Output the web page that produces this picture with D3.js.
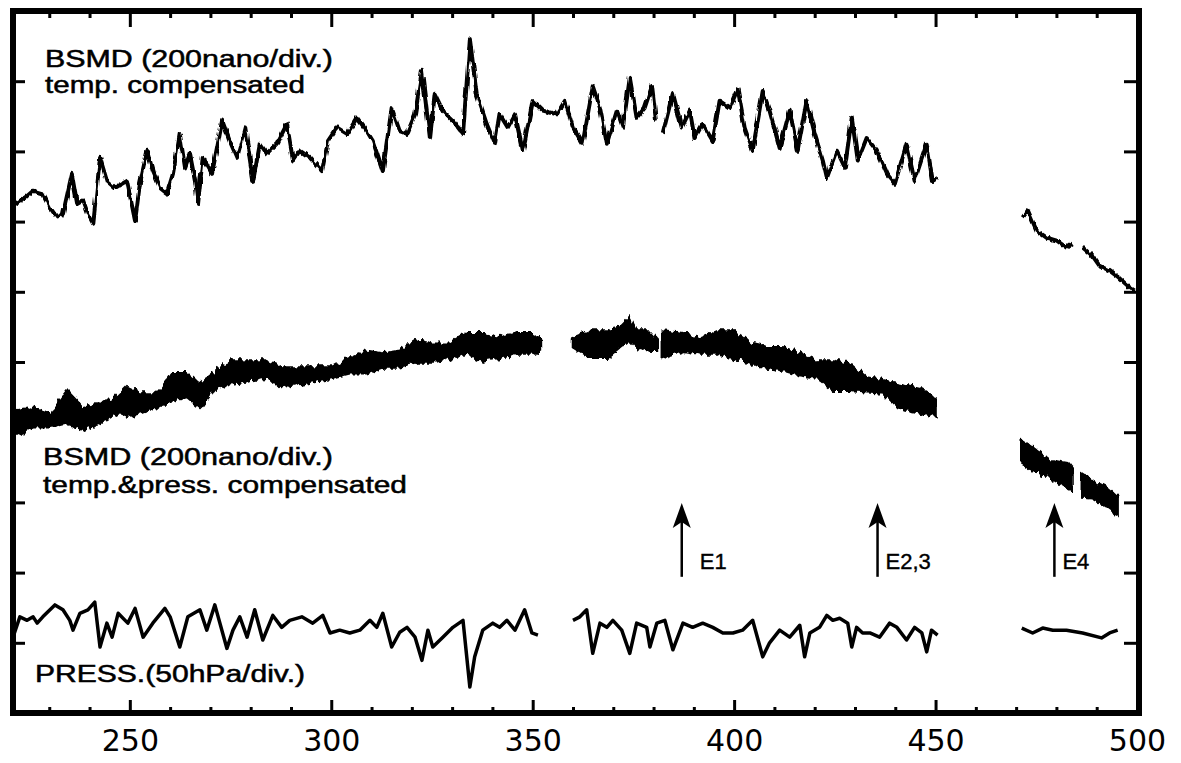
<!DOCTYPE html>
<html>
<head>
<meta charset="utf-8">
<script src="https://cdn.jsdelivr.net/npm/d3@7"></script>
<style>
body { margin: 0; background: #fff; }
</style>
</head>
<body>
<svg id="svg" width="1181" height="763"></svg>
<script>
// x in the printed axis units, y in chart divisions counted up from the bottom frame line
var xMajor = [250, 300, 350, 400, 450, 500];
var xMinor = [230, 240, 260, 270, 280, 290, 310, 320, 330, 340, 360, 370, 380, 390,
              410, 420, 430, 440, 460, 470, 480, 490];
var yTicks = [1, 2, 3, 4, 5, 6, 7, 8, 9];

// BSMD, temperature compensated (null = recording gap)
var tempComp = [
  [221.5,7.25],[224.0,7.34],[226.0,7.44],[228.4,7.40],[230.2,7.20],[231.9,7.06],[233.4,7.11],[235.6,7.68],
  [236.9,7.25],[238.4,7.30],[239.6,7.11],[240.9,6.97],[242.6,7.91],[244.3,7.58],[246.3,7.48],[249.3,7.58],
  [251.3,7.01],[252.5,7.54],[254.3,8.01],[255.7,7.72],[257.5,7.48],[259.2,7.40],[260.7,7.68],[262.4,8.25],
  [263.7,7.77],[264.9,7.97],[266.2,7.58],[266.9,7.25],[268.1,7.91],[270.4,7.68],[272.9,8.44],[274.8,8.15],
  [276.6,7.91],[278.6,8.34],[280.6,7.58],[282.3,8.11],[284.0,7.97],[286.5,8.11],[289.0,8.39],[290.5,7.87],
  [292.2,8.01],[294.7,7.91],[297.7,7.72],[299.2,8.15],[301.4,8.34],[303.9,8.25],[306.4,8.48],[308.8,8.29],
  [310.3,8.15],[312.8,7.72],[315.0,8.62],[317.0,8.29],[318.8,8.25],[320.8,8.53],[322.5,9.15],[324.5,8.19],
  [325.7,8.82],[327.7,8.58],[330.2,8.44],[332.7,8.25],[334.4,9.60],[336.1,8.82],[338.6,8.39],[340.6,8.11],
  [341.8,8.53],[343.8,8.34],[345.6,8.53],[347.6,8.01],[350.0,8.72],[352.5,8.58],[356.0,8.53],[358.0,8.72],
  [360.0,8.34],[362.4,8.11],[364.9,8.93],[366.7,8.62],[368.4,8.11],[370.9,8.58],[372.4,8.34],[374.1,9.05],
  [375.8,8.48],[377.8,8.62],[379.6,8.93],[380.6,8.44], null,
  [382.3,8.25],[384.8,8.83],[387.0,8.34],[389.0,8.58],[390.2,8.19],[392.2,8.39],[394.7,8.15],[396.4,8.72],
  [398.9,8.62],[400.9,8.89],[402.6,8.34],[404.6,8.01],[407.1,8.86],[408.8,8.58],[411.3,8.05],[413.8,8.58],
  [415.8,8.01],[416.3,8.19],[418.0,8.72],[420.0,8.25],[422.0,7.87],[423.0,7.62],[425.5,8.01],[427.5,7.77],
  [429.2,8.48],[430.7,7.87],[432.9,8.19],[435.4,8.01],[437.9,7.68],[439.9,7.54],[442.8,8.11],[444.8,7.58],
  [447.8,8.11],[449.3,7.58],[450.5,7.62], null,
  [471.6,7.06],[472.9,7.16],[475.1,6.87],[477.6,6.77],[480.1,6.73],[482.5,6.63],[484.0,6.69], null,
  [486.5,6.63],[489.0,6.51],[490.7,6.37],[493.2,6.30],[495.7,6.19],[498.2,6.06],[499.4,6.02]
];

// BSMD, temperature & pressure compensated: [x, low edge, high edge] of the noisy band
var tempPressComp = [
  [221.0,3.98,4.28],[222.0,3.98,4.31],[226.0,4.07,4.35],[230.2,4.07,4.27],[234.4,4.13,4.59],[238.4,4.03,4.35],
  [242.6,4.13,4.41],[246.8,4.27,4.50],[249.3,4.21,4.64],[252.5,4.27,4.55],[256.7,4.35,4.55],[260.7,4.45,4.84],
  [264.2,4.50,4.84],[267.4,4.35,4.69],[271.6,4.64,4.88],[275.6,4.69,5.02],[279.8,4.74,5.02],[284.0,4.78,5.02],
  [288.0,4.64,4.92],[292.2,4.69,4.92],[296.4,4.74,4.92],[300.4,4.78,4.92],[304.6,4.84,5.06],[308.8,4.84,5.16],
  [312.8,4.92,5.12],[317.0,4.92,5.16],[321.2,4.98,5.31],[325.2,4.98,5.26],[329.4,5.06,5.26],[333.7,5.12,5.41],
  [337.6,5.02,5.41],[341.8,5.06,5.35],[346.1,5.12,5.41],[350.0,5.12,5.41],[351.8,5.16,5.33], null,
  [360.0,5.21,5.35],[364.2,5.06,5.45],[368.4,5.06,5.45],[371.6,5.21,5.49],[374.1,5.31,5.63],[375.8,5.21,5.45],
  [379.1,5.16,5.45],[380.6,5.16,5.35], null,
  [382.3,5.06,5.45],[387.3,5.16,5.41],[391.5,5.12,5.35],[395.7,5.12,5.45],[399.7,5.06,5.45],[403.9,4.98,5.26],
  [408.1,4.92,5.21],[412.1,4.88,5.21],[416.3,4.81,5.12],[420.5,4.78,5.02],[424.5,4.59,5.02],[428.7,4.59,4.98],
  [432.9,4.57,4.78],[436.9,4.55,4.74],[441.1,4.35,4.69],[445.3,4.31,4.64],[449.3,4.24,4.50],[450.5,4.24,4.45], null,
  [471.4,3.56,3.88],[474.1,3.46,3.78],[478.3,3.36,3.60],[482.5,3.21,3.56],[484.0,3.17,3.46], null,
  [486.3,3.07,3.41],[489.0,3.06,3.31],[492.5,2.93,3.21],[495.2,2.82,3.07]
];

// atmospheric pressure
var press = [
  [221.0,1.08],[222.7,1.37],[224.5,1.32],[226.0,1.37],[227.0,1.28],[228.4,1.37],[231.4,1.54],[233.4,1.47],
  [235.1,1.32],[235.9,1.18],[237.6,1.42],[239.6,1.47],[241.3,1.58],[242.6,0.94],[244.3,1.28],[245.6,1.08],
  [247.1,1.42],[249.5,1.28],[251.3,1.49],[253.3,1.08],[255.7,1.28],[258.7,1.49],[260.0,1.37],[262.4,0.94],
  [264.4,1.37],[267.4,1.47],[269.1,1.18],[271.1,1.54],[274.1,0.92],[275.6,1.18],[277.3,1.37],[279.1,1.08],
  [281.0,1.47],[283.0,1.04],[285.5,1.39],[287.7,1.22],[289.7,1.32],[292.7,1.37],[295.4,1.28],[297.9,1.39],
  [299.7,1.14],[302.1,1.18],[304.6,1.14],[307.1,1.18],[309.6,1.32],[311.3,1.22],[312.8,1.42],[315.0,0.94],
  [317.0,1.15],[318.8,1.22],[320.8,1.08],[322.5,0.75],[324.0,1.18],[325.2,0.94],[327.7,1.08],[330.2,1.22],
  [332.7,1.32],[334.4,0.37],[335.6,0.80],[337.6,1.18],[340.1,1.28],[341.8,1.22],[343.6,1.32],[345.6,1.18],
  [348.0,1.47],[349.8,1.14],[351.3,1.11], null,
  [360.0,1.32],[361.7,1.37],[363.4,1.47],[364.9,0.85],[366.7,1.28],[368.4,1.22],[369.9,1.32],[372.1,1.18],
  [374.1,0.85],[375.8,1.28],[378.3,1.22],[379.1,0.94],[380.8,1.28],[382.8,1.32],[384.8,0.90],[387.3,1.28],
  [389.7,1.22],[392.2,1.28],[394.7,1.22],[397.2,1.14],[399.7,1.14],[402.1,1.18],[404.6,1.32],[407.1,0.80],
  [408.8,1.00],[411.3,1.18],[413.8,1.08],[416.3,1.25],[417.5,0.80],[418.8,1.14],[421.2,1.22],[423.0,1.39],
  [424.5,1.32],[426.2,1.35],[428.2,1.28],[429.2,0.94],[430.4,1.22],[431.9,1.14],[433.7,1.14],[436.1,1.08],
  [438.6,1.28],[440.4,1.22],[442.8,1.04],[444.8,1.22],[446.6,1.14],[447.8,0.87],[449.0,1.18],[450.5,1.11], null,
  [471.4,1.21],[474.1,1.14],[476.6,1.21],[479.1,1.18],[482.5,1.18],[486.5,1.14],[491.2,1.07],[493.2,1.14],
  [495.2,1.18]
];

var eventX = [387, 435.6, 479.5];
var eventLabels = ["E1", "E2,3", "E4"];

var svg = d3.select("#svg");
var x = d3.scaleLinear().domain([221, 500.5]).range([13, 1139]);
var y = d3.scaleLinear().domain([0, 10]).range([713, 11]);

// rough pen texture for the noisy recorder traces (purely visual)
var defs = svg.append("defs");
function roughFilter(id, freq, scale) {
  var f = defs.append("filter").attr("id", id)
    .attr("x", "-2%").attr("y", "-20%").attr("width", "104%").attr("height", "140%");
  f.append("feTurbulence").attr("type", "fractalNoise")
    .attr("baseFrequency", freq).attr("numOctaves", 1).attr("seed", 3).attr("result", "n");
  f.append("feDisplacementMap").attr("in", "SourceGraphic").attr("in2", "n")
    .attr("scale", scale).attr("xChannelSelector", "R").attr("yChannelSelector", "G");
}
roughFilter("rough", "0.3 0.04", 10);
roughFilter("roughLight", "0.35 0.08", 5);

var line = d3.line()
  .defined(function(d) { return d; })
  .x(function(d) { return x(d[0]); })
  .y(function(d) { return y(d[1]); });

var band = d3.area()
  .defined(function(d) { return d; })
  .x(function(d) { return x(d[0]); })
  .y0(function(d) { return y(d[1]); })
  .y1(function(d) { return y(d[2]); });

// traces
svg.append("path").attr("d", line(tempComp))
  .attr("fill", "none").attr("stroke", "#000").attr("stroke-width", 4).attr("stroke-linejoin", "round")
  .attr("filter", "url(#roughLight)");
svg.append("path").attr("d", band(tempPressComp))
  .attr("fill", "#000").attr("stroke", "#000").attr("stroke-width", 2.5).attr("stroke-linejoin", "miter")
  .attr("filter", "url(#rough)");
svg.append("path").attr("d", line(press))
  .attr("fill", "none").attr("stroke", "#000").attr("stroke-width", 3.5).attr("stroke-linejoin", "round");

// axes (ticks point inward, frame drawn separately)
function clean(g, w) {
  g.select(".domain").remove();
  g.selectAll(".tick line").attr("stroke", "#000").attr("stroke-width", w);
}
svg.append("g").attr("transform", "translate(0,713)")
  .call(d3.axisBottom(x).tickValues(xMajor).tickSize(-13).tickPadding(17).tickFormat(d3.format("d")))
  .call(function(g) { clean(g, 3); })
  .call(function(g) {
    g.selectAll("text").attr("font-family", "DejaVu Sans").attr("font-size", 30).attr("fill", "#000");
  });
svg.append("g").attr("transform", "translate(0,713)")
  .call(d3.axisBottom(x).tickValues(xMinor).tickSize(-6).tickFormat(""))
  .call(function(g) { clean(g, 3); });
svg.append("g").attr("transform", "translate(0,11)")
  .call(d3.axisTop(x).tickValues(xMajor).tickSize(-16).tickFormat(""))
  .call(function(g) { clean(g, 3); });
svg.append("g").attr("transform", "translate(0,11)")
  .call(d3.axisTop(x).tickValues(xMinor).tickSize(-7).tickFormat(""))
  .call(function(g) { clean(g, 3); });
svg.append("g").attr("transform", "translate(13,0)")
  .call(d3.axisLeft(y).tickValues(yTicks).tickSize(-12).tickFormat(""))
  .call(function(g) { clean(g, 3); });
svg.append("g").attr("transform", "translate(1139,0)")
  .call(d3.axisRight(y).tickValues(yTicks).tickSize(-15).tickFormat(""))
  .call(function(g) { clean(g, 3); });

svg.append("rect")
  .attr("x", x.range()[0]).attr("y", y.range()[1])
  .attr("width", x.range()[1] - x.range()[0]).attr("height", y.range()[0] - y.range()[1])
  .attr("fill", "none").attr("stroke", "#000").attr("stroke-width", 6);

// trace labels, stretched like the original lettering
var labels = [
  { t: "BSMD (200nano/div.)", x: 45, y: 67, w: 288 },
  { t: "temp. compensated", x: 45, y: 93, w: 260 },
  { t: "BSMD (200nano/div.)", x: 43, y: 465, w: 290 },
  { t: "temp.&press. compensated", x: 43, y: 493, w: 364 },
  { t: "PRESS.(50hPa/div.)", x: 35, y: 682, w: 270 }
];
svg.selectAll("text.lab").data(labels).enter().append("text")
  .attr("class", "lab")
  .attr("x", function(d) { return d.x; })
  .attr("y", function(d) { return d.y; })
  .attr("textLength", function(d) { return d.w; })
  .attr("lengthAdjust", "spacingAndGlyphs")
  .attr("font-family", "Liberation Sans, Arial, sans-serif")
  .attr("font-size", 23)
  .attr("stroke", "#000").attr("stroke-width", 0.5)
  .text(function(d) { return d.t; });

// event arrows
var tipV = 2.99, baseV = 1.94;
var ev = svg.selectAll("g.ev").data(eventX).enter().append("g").attr("class", "ev");
ev.append("line")
  .attr("x1", function(d) { return x(d); }).attr("x2", function(d) { return x(d); })
  .attr("y1", y(baseV)).attr("y2", y(tipV) + 10)
  .attr("stroke", "#000").attr("stroke-width", 2.5);
ev.append("path")
  .attr("d", function(d) {
    var cx = x(d), ty = y(tipV);
    return "M" + cx + "," + ty + "L" + (cx - 9) + "," + (ty + 25) + "L" + cx + "," + (ty + 19) +
      "L" + (cx + 9) + "," + (ty + 25) + "Z";
  })
  .attr("fill", "#000");
ev.append("text")
  .attr("x", function(d, i) { return x(d) + (i === 0 ? 18 : 8); })
  .attr("y", 569)
  .attr("font-family", "Liberation Sans, Arial, sans-serif")
  .attr("font-size", 22)
  .attr("stroke", "#000").attr("stroke-width", 0.4)
  .text(function(d, i) { return eventLabels[i]; });
</script>
</body>
</html>
